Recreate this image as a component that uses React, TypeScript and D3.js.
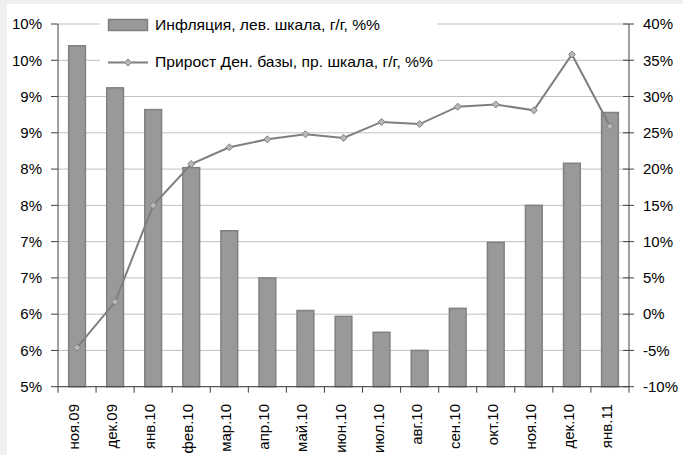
import React from "react";
import * as d3 from "d3";

const categories = ["ноя.09", "дек.09", "янв.10", "фев.10", "мар.10", "апр.10", "май.10", "июн.10", "июл.10", "авг.10", "сен.10", "окт.10", "ноя.10", "дек.10", "янв.11"];
const inflation = [9.70, 9.12, 8.82, 8.02, 7.15, 6.50, 6.05, 5.97, 5.75, 5.50, 6.08, 6.99, 7.50, 8.08, 8.78];
const moneyBase = [-4.6, 1.7, 15.0, 20.7, 23.0, 24.1, 24.8, 24.3, 26.5, 26.2, 28.6, 28.9, 28.1, 35.8, 25.9];
const leftTicks = [5, 5.5, 6, 6.5, 7, 7.5, 8, 8.5, 9, 9.5, 10];
const leftTickLabels = ["5%", "6%", "6%", "7%", "7%", "8%", "8%", "9%", "9%", "10%", "10%"];
const rightTicks = [-10, -5, 0, 5, 10, 15, 20, 25, 30, 35, 40];
const rightTickLabels = ["-10%", "-5%", "0%", "5%", "10%", "15%", "20%", "25%", "30%", "35%", "40%"];
const legendLabels = ["Инфляция, лев. шкала, г/г, %%", "Прирост Ден. базы, пр. шкала, г/г, %%"];

const W = 683, H = 455;
const L = 58, R = 629, T = 24, B = 386.7;
const font = "'Liberation Sans', Arial, sans-serif";

export default function App() {
  const x = d3.scaleBand<string>().domain(categories).range([L, R]).paddingInner(0.56).paddingOuter(0.28);
  const yL = d3.scaleLinear().domain([5, 10]).range([B, T]);
  const yR = d3.scaleLinear().domain([-10, 40]).range([B, T]);
  const step = x.step();
  const cx = (c: string) => (x(c) as number) + x.bandwidth() / 2;
  const line = d3.line<number>().x((_, i) => cx(categories[i])).y((d) => yR(d));
  const diamond = (px: number, py: number, r = 3.5) => `M${px},${py - r}L${px + r},${py}L${px},${py + r}L${px - r},${py}Z`;

  return (
    <svg width={W} height={H} style={{ position: "absolute", left: 0, top: 0 }} fontFamily={font}>
      <rect x={0} y={0} width={W} height={H} fill="#f0f0f0" />
      <rect x={7} y={4} width={W - 7} height={H - 4} fill="#ffffff" />
      {/* gridlines */}
      {leftTicks.map((t) => (
        <line key={"g" + t} x1={L} x2={R} y1={yL(t)} y2={yL(t)} stroke="#c0c0c0" strokeWidth={1} />
      ))}
      {/* bars */}
      {inflation.map((v, i) => (
        <rect key={"b" + i} x={x(categories[i])} y={yL(v)} width={x.bandwidth()} height={B - yL(v)} fill="#999999" stroke="#808080" strokeWidth={1.5} />
      ))}
      {/* legend background */}
      <rect x={100} y={9} width={337} height={70} fill="#ffffff" />
      {/* line */}
      <path d={line(moneyBase) || ""} fill="none" stroke="#7f7f7f" strokeWidth={2} />
      {moneyBase.map((v, i) => (
        <path key={"m" + i} d={diamond(cx(categories[i]), yR(v))} fill="#b8b8b8" stroke="#808080" strokeWidth={1} />
      ))}
      {/* axes */}
      <line x1={L} x2={L} y1={T} y2={B} stroke="#404040" strokeWidth={1} />
      <line x1={R} x2={R} y1={T} y2={B} stroke="#404040" strokeWidth={1} />
      <line x1={L} x2={R} y1={B} y2={B} stroke="#404040" strokeWidth={1} />
      {leftTicks.map((t, i) => (
        <g key={"lt" + t}>
          <line x1={L - 7} x2={L} y1={yL(t)} y2={yL(t)} stroke="#404040" />
          <text x={42} y={yL(t)} dy="0.35em" textAnchor="end" fontSize={15} fill="#000">{leftTickLabels[i]}</text>
        </g>
      ))}
      {rightTicks.map((t, i) => (
        <g key={"rt" + t}>
          <line x1={R - 6} x2={R + 5} y1={yR(t)} y2={yR(t)} stroke="#404040" />
          <text x={643} y={yR(t)} dy="0.35em" textAnchor="start" fontSize={15} fill="#000">{rightTickLabels[i]}</text>
        </g>
      ))}
      {d3.range(categories.length + 1).map((i) => (
        <line key={"xt" + i} x1={L + i * step} x2={L + i * step} y1={B} y2={B + 6} stroke="#404040" />
      ))}
      {categories.map((c) => (
        <text key={"c" + c} transform={`translate(${cx(c) + 2},404) rotate(-90)`} textAnchor="end" fontSize={15} fill="#000">{c}</text>
      ))}
      {/* legend */}
      <rect x={108.5} y={19.5} width={39} height={11} fill="#999999" stroke="#808080" strokeWidth={1.5} />
      <text x={155} y={29.5} fontSize={15} fill="#000" textLength={225} lengthAdjust="spacingAndGlyphs">{legendLabels[0]}</text>
      <line x1={108} x2={148} y1={62.5} y2={62.5} stroke="#7f7f7f" strokeWidth={2} />
      <path d={diamond(128, 62.5)} fill="#b8b8b8" stroke="#808080" strokeWidth={1} />
      <text x={155} y={67} fontSize={15} fill="#000" textLength={278} lengthAdjust="spacingAndGlyphs">{legendLabels[1]}</text>
    </svg>
  );
}
